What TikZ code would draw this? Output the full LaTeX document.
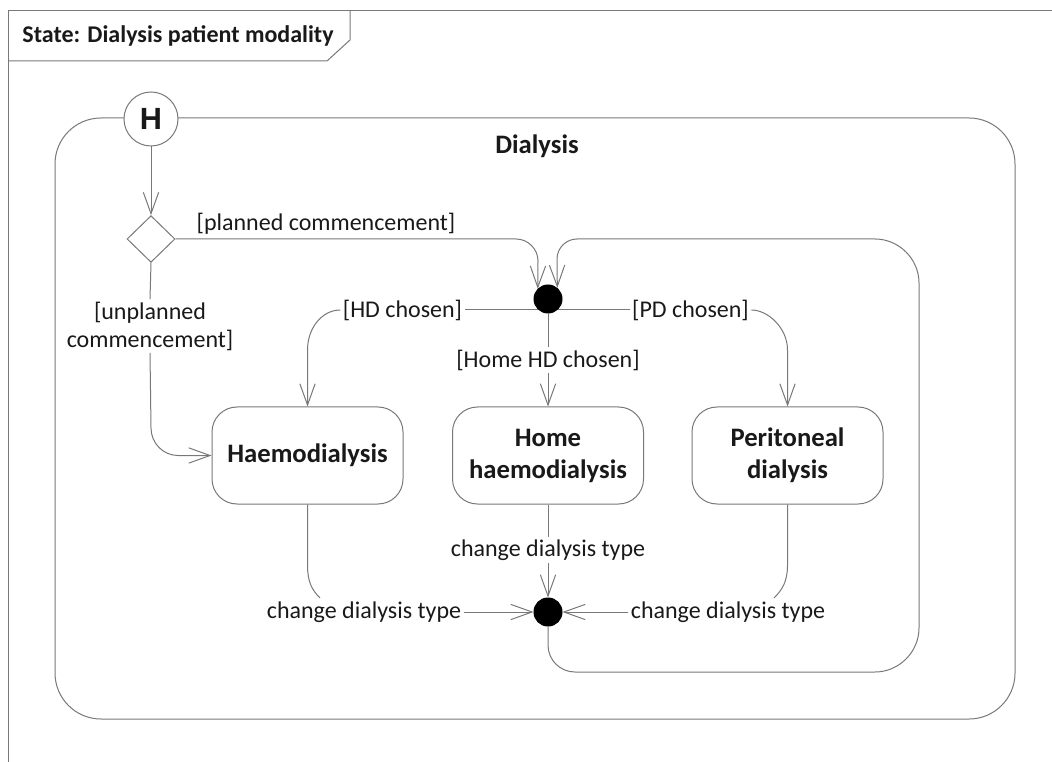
\documentclass[tikz,border=0pt]{standalone}
\usepackage{fontspec}
\setmainfont{Carlito}
\newfontfamily\histfont{Liberation Sans}
\usetikzlibrary{arrows.meta,shapes.geometric}
\definecolor{umlline}{RGB}{120,120,120}
\definecolor{umltext}{RGB}{25,25,25}
\begin{document}
\begin{tikzpicture}[x=0.75pt,y=-0.75pt,
  line width=0.75pt,
  every node/.style={text=umltext},
  conn/.style={draw=umlline, line width=0.75pt},
  arr/.style={conn, -{Straight Barb[length=16pt,width=11.5pt]}},
  lbl/.style={font=\fontsize{18}{21}\selectfont, inner sep=1.5pt, align=center},
  statebox/.style={draw=umlline, rounded corners=18.75pt, minimum width=143.25pt,
    minimum height=72.75pt, align=center, fill=white,
    font=\bfseries\fontsize{20}{24}\selectfont},
  junction/.style={circle, fill=black, draw=black, minimum size=21pt, inner sep=0pt},
]
\useasboundingbox (0,0) rectangle (1052,762);

% diagram frame and its name tab
\draw[umlline] (8,762) -- (8,11) -- (1052,11);
\draw[umlline] (8,61) -- (327,61) -- (350,40) -- (350,11);
\node[font=\bfseries\fontsize{18}{22}\selectfont] (title) at (178,36) {State: Dialysis patient modality};

% composite state
\draw[umlline] [rounded corners=34.5pt] (55,118) rectangle (1015,719);
\node[font=\bfseries\fontsize{20}{24}\selectfont] (dial) at (537,146) {Dialysis};

% pseudo states
\node[circle, draw=umlline, fill=white, minimum size=40.5pt, inner sep=0pt,
  font=\histfont\bfseries\fontsize{23}{26}\selectfont] (hist) at (151,119) {H};
\node[diamond, draw=umlline, fill=white, minimum width=36pt, minimum height=35pt, inner sep=0pt] (dec) at (151,239) {};
\node[junction] (j1) at (548,299) {};
\node[junction] (j2) at (548,612) {};

% states
\node[statebox] (hd) at (307.5,455.5) {Haemodialysis};
\node[statebox] (home) at (548,455.5) {Home\\haemodialysis};
\node[statebox] (pd) at (787.5,455.5) {Peritoneal\\dialysis};

% transition labels
\node[lbl] (lplan) at (326,224) {[planned commencement]};
\node[lbl] (lunpl) at (150,326) {[unplanned\\commencement]};
\node[lbl] (lhd) at (402.5,310) {[HD chosen]};
\node[lbl] (lpd) at (690.5,310) {[PD chosen]};
\node[lbl] (lhome) at (548,360) {[Home HD chosen]};
\node[lbl] (lch1) at (364,612) {change dialysis type};
\node[lbl] (lch2) at (548,550) {change dialysis type};
\node[lbl] (lch3) at (728,612) {change dialysis type};

% transitions
\draw[arr] (hist) -- (dec);
\draw[arr] (dec.east) -- (516,239) .. controls (528,239) and (538,249) .. (538,261) -- (j1.135);
\draw[conn] (dec.south) -- (lunpl.north);
\draw[arr] (lunpl.south) -- (151,428) .. controls (151,443) and (163,455.5) .. (178,455.5) -- (hd.west);

\draw[conn] (j1.225) -- (j1.225 -| lhd.east);
\draw[arr] (lhd.west) .. controls (322,310) and (307.5,328) .. (307.5,350) -- (hd.north);
\draw[conn] (j1.-45) -- (j1.-45 -| lpd.west);
\draw[arr] (lpd.east) .. controls (768,310) and (787.5,328) .. (787.5,350) -- (pd.north);
\draw[conn] (j1.south) -- (lhome.north);
\draw[arr] (lhome.south) -- (home.north);

\draw[conn] (hd.south) -- (307.5,565) .. controls (307.5,582) and (312,590) .. (320,598);
\draw[arr] (lch1.east) -- (j2.west);
\draw[conn] (home.south) -- (lch2.north);
\draw[arr] (lch2.south) -- (j2.north);
\draw[conn] (pd.south) -- (787.5,565) .. controls (787.5,582) and (782,590) .. (774,598);
\draw[arr] (lch3.west) -- (j2.east);

% re-entry loop back to the choice junction
\draw[arr] (j2.south) -- (548,645) .. controls (548,660) and (560,672) .. (575,672)
  -- (875,672) .. controls (899,672) and (919,652) .. (919,628)
  -- (919,283) .. controls (919,259) and (899,239) .. (875,239)
  -- (577,239) .. controls (566,239) and (557,248) .. (557,259) -- (j1.50);
\end{tikzpicture}
\end{document}
